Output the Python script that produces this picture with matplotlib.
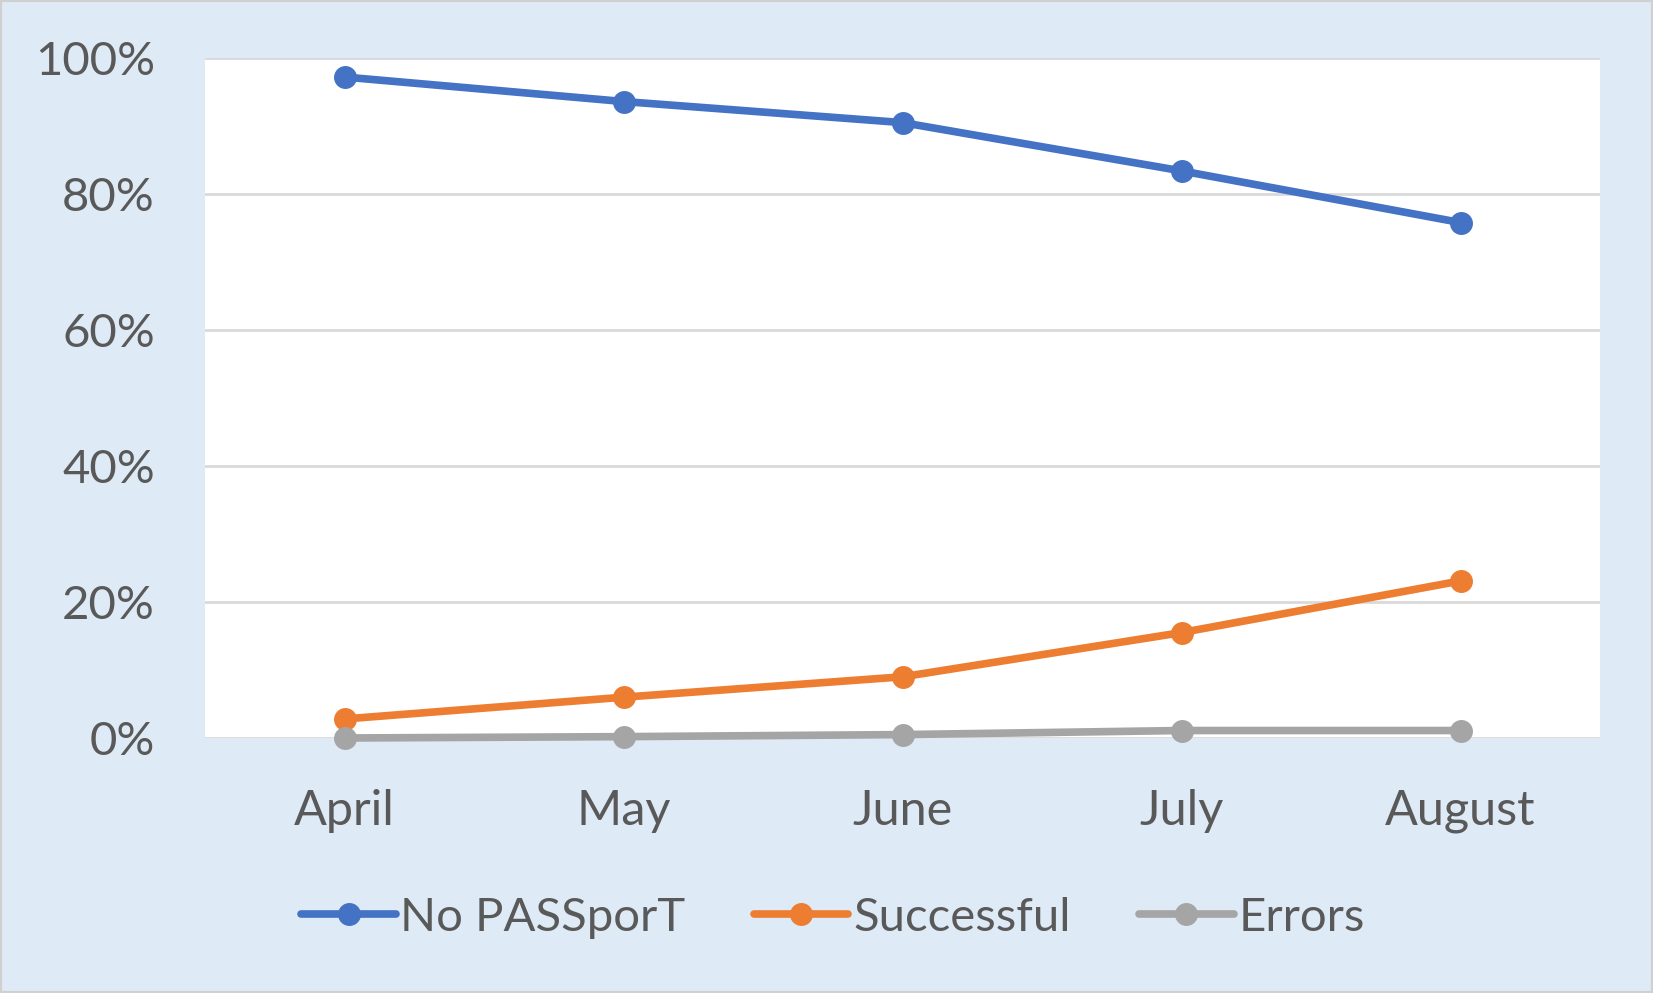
import matplotlib
matplotlib.use("Agg")
import matplotlib.pyplot as plt
from matplotlib.ticker import PercentFormatter
from matplotlib.patches import Rectangle

months = ["April", "May", "June", "July", "August"]
no_passport = [97.2, 93.6, 90.5, 83.4, 75.8]
successful = [2.8, 6.0, 9.0, 15.5, 23.1]
errors = [0.0, 0.2, 0.5, 1.1, 1.1]
yticks = [0, 20, 40, 60, 80, 100]

series = [("No PASSporT", no_passport, "#4472C4"),
          ("Successful", successful, "#ED7D31"),
          ("Errors", errors, "#A5A5A5")]

plt.rcParams['font.family'] = ['Lato', 'DejaVu Sans']
W, H = 1653, 993
fig = plt.figure(figsize=(W / 100, H / 100), dpi=100)
fig.patch.set_facecolor("#DEEAF6")
fig.patches.append(Rectangle((0, 0), 1, 1, transform=fig.transFigure,
                             fill=False, edgecolor="#D0D0D0", linewidth=3))

left, right, top, bottom = 205, 1600, 58, 738
ax = fig.add_axes([left / W, 1 - bottom / H, (right - left) / W, (bottom - top) / H])
ax.set_facecolor("white")

x = list(range(len(months)))
for name, vals, col in series:
    ax.plot(x, vals, color=col, linewidth=5.5, marker="o", markersize=15.5,
            label=name, solid_capstyle="round", zorder=3, clip_on=False)

ax.set_xlim(-0.5, len(months) - 0.5)
ax.set_ylim(0, 100)
ax.set_yticks(yticks)
ax.yaxis.set_major_formatter(PercentFormatter(decimals=0))
ax.set_xticks(x)
ax.set_xticklabels(months)
ax.grid(axis="y", color="#D9D9D9", linewidth=2)
ax.set_axisbelow(True)
for s in ax.spines.values():
    s.set_visible(False)
ax.tick_params(axis="both", length=0, labelsize=34, labelcolor="#595959")
ax.tick_params(axis="x", labelsize=35)
ax.tick_params(axis="y", pad=36)
ax.tick_params(axis="x", pad=37)

leg = fig.legend(loc="center", bbox_to_anchor=(833 / W, 1 - 918 / H), ncol=3,
                 frameon=False, fontsize=34, labelcolor="#595959",
                 handlelength=2.0, handletextpad=0.1, columnspacing=1.45)

fig.savefig("out.png", dpi=100, facecolor=fig.get_facecolor())
